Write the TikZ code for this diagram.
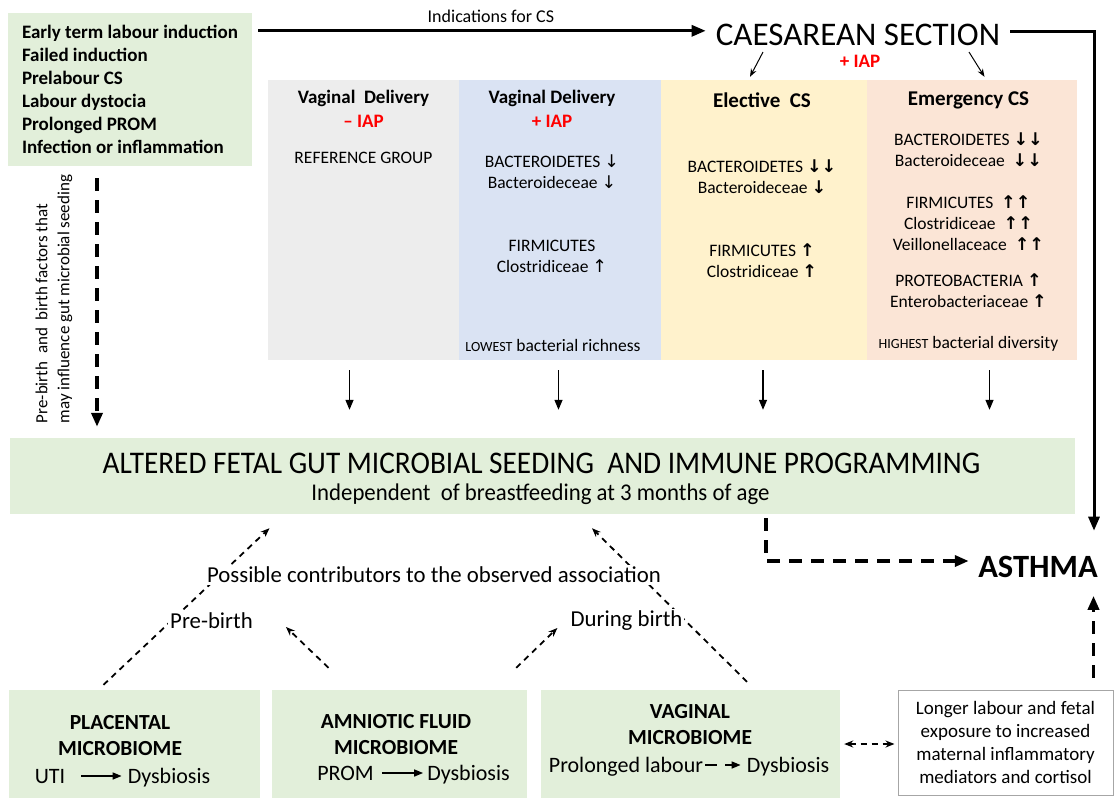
\documentclass[tikz,border=0pt]{standalone}
\usepackage{fontspec}
\usepackage{graphicx}
\setmainfont{Carlito}
\newfontfamily\arrfont{DejaVu Sans}
\usetikzlibrary{arrows.meta,positioning}

\definecolor{boxgreen}{HTML}{E2EFDA}
\definecolor{colgray}{HTML}{EDEDED}
\definecolor{colblue}{HTML}{DAE3F3}
\definecolor{colyellow}{HTML}{FFF2CC}
\definecolor{colpeach}{HTML}{FBE5D6}
\definecolor{iapred}{HTML}{FF0000}

\newcommand{\setfs}[2]{\fontsize{#1}{#2}\selectfont}
\newcommand{\dnA}{{\arrfont ↓}}
\newcommand{\upA}{{\arrfont ↑}}
\newcommand{\dnB}{{\arrfont\bfseries ↓}}
\newcommand{\upB}{{\arrfont\bfseries ↑}}

\begin{document}
\begin{tikzpicture}[x=1pt, y=-1pt,
    >={Stealth[length=9pt,width=7pt]},
    greenbox/.style={fill=boxgreen, inner sep=0pt},
    colbox/.style={inner sep=0pt, minimum width=#1, minimum height=280},
    head/.style={font=\bfseries\setfs{19}{23}, align=center, inner sep=1pt},
    bighead/.style={font=\bfseries\setfs{21}{25}, align=center, inner sep=1pt},
    body/.style={font=\setfs{17.5}{21}, align=center, inner sep=1pt},
    microhead/.style={font=\bfseries\setfs{21.5}{26}, align=center, inner sep=1pt},
    microline/.style={font=\setfs{22}{26}, inner sep=2pt, anchor=base},
    note/.style={font=\setfs{22.8}{26}, inner sep=2pt, fill=white},
    thickarr/.style={line width=3pt, -{Triangle[length=14pt,width=11pt]}},
    thinarr/.style={line width=1.3pt, -{Triangle[length=10pt,width=8pt]}},
    csarr/.style={line width=1pt, -{Stealth[length=8pt,width=6pt]}},
    dasharr/.style={line width=3.5pt, dash pattern=on 13pt off 9pt, -{Triangle[length=14pt,width=11pt]}},
    dotline/.style={line width=1.8pt, dash pattern=on 6pt off 5pt},
    smallarr/.style={line width=1.5pt, -{Triangle[length=9pt,width=7pt]}}]
    \def\colY{220} % milieu des colonnes
    \useasboundingbox (0,0) rectangle (1117,798);
    \fill[white] (0,0) rectangle (1117,798);

    % indications
    \node[greenbox, minimum width=244, minimum height=153, align=left, font=\bfseries\setfs{19}{23}] (ind) at (130,89.5)
        {Early term labour induction\\Failed induction\\Prelabour CS\\Labour dystocia\\Prolonged PROM\\Infection or inflammation};
    \node[font=\setfs{33}{38}, inner xsep=10pt, inner ysep=2pt] (cs) at (858,35) {CAESAREAN SECTION};
    \node[head, text=iapred] (csIap) at (860,61) {+ IAP};

    % groupes
    \node[colbox=191, fill=colgray] (vdn) at (363.5,\colY) {};
    \node[colbox=202, fill=colblue] (vdp) at (560,\colY) {};
    \node[colbox=206, fill=colyellow] (ecs) at (764,\colY) {};
    \node[colbox=210, fill=colpeach] (emcs) at (972,\colY) {};

    \node[head] (vdnH) at (363.5,98) {Vaginal\ \ Delivery};
    \node[head, text=iapred] (vdnI) at (363.5,121) {– IAP};
    \node[body] (vdnRef) at (363.5,158) {REFERENCE GROUP};

    \node[head] (vdpH) at (552,98) {Vaginal Delivery};
    \node[head, text=iapred] (vdpI) at (552,121) {+ IAP};
    \node[body] (vdpB) at (552,172) {BACTEROIDETES \dnA\\Bacteroideceae \dnA};
    \node[body] (vdpF) at (552,256.5) {FIRMICUTES\\Clostridiceae \upA};
    \node[body] (vdpL) at (553,345.5) {{\setfs{14}{17}LOWEST} bacterial richness};

    \node[bighead] (ecsH) at (762,100) {Elective\ \ CS};
    \node[body] (ecsB) at (762,176.5) {BACTEROIDETES \dnB\dnB\\Bacteroideceae \dnB};
    \node[body] (ecsF) at (762,260.5) {FIRMICUTES \upB\\Clostridiceae \upB};

    \node[bighead] (emcsH) at (968.5,100) {Emergency CS};
    \node[body] (emcsB) at (968.5,150) {BACTEROIDETES \dnB\dnB\\Bacteroideceae\ \ \dnB\dnB};
    \node[body] (emcsF) at (968.5,223) {FIRMICUTES\ \ \upB\upB\\Clostridiceae\ \ \upB\upB\\Veillonellaceace\ \ \upB\upB};
    \node[body] (emcsP) at (968.5,291) {PROTEOBACTERIA \upB\\Enterobacteriaceae \upB};
    \node[body] (emcsL) at (968.5,344) {{\setfs{14}{17}HIGHEST} bacterial diversity};

    % seeding
    \node[greenbox, minimum width=1065, minimum height=76] (seed) at (542.5,476) {};
    \node[font=\setfs{31.5}{36}, inner sep=0pt] (seedT) at (541.5,463)
        {\scalebox{0.93}[1]{ALTERED FETAL GUT MICROBIAL SEEDING\ \ AND IMMUNE PROGRAMMING}};
    \node[font=\setfs{24}{28}, inner sep=0pt] (seedS) at (540.5,494)
        {\scalebox{0.95}[1]{Independent\ \ of breastfeeding at 3 months of age}};
    \node[rotate=90, align=left, font=\setfs{17}{22}, inner sep=0pt] (seedNote) at (54,299)
        {Pre-birth\ \ and\ \ birth factors that\\may influence gut microbial seeding};

    \node[font=\bfseries\setfs{32.5}{38}] (asthma) at (1038,567) {ASTHMA};

    % microbiomes
    \node[greenbox, minimum width=251, minimum height=108] (plac) at (134.5,744) {};
    \node[greenbox, minimum width=255, minimum height=108] (amn) at (399.5,744) {};
    \node[greenbox, minimum width=299, minimum height=108] (vag) at (690.5,744) {};
    \node[draw=black!35, line width=1pt, fill=white, minimum width=215, minimum height=105, align=center,
        font=\setfs{19}{23}] (longer) at (1005.5,742.5)
        {Longer labour and fetal\\exposure to increased\\maternal inflammatory\\mediators and cortisol};

    \node[microhead] (placH) at (120,736) {PLACENTAL\\MICROBIOME};
    \node[microhead] (amnH) at (396,734.5) {AMNIOTIC FLUID\\MICROBIOME};
    \node[microhead] (vagH) at (690,724.5) {VAGINAL\\MICROBIOME};
    \node[microline] (uti) at (50,783) {UTI};
    \node[microline] (dysP) at (169,783) {Dysbiosis};
    \node[microline] (prom) at (345.5,780) {PROM};
    \node[microline] (dysA) at (468.5,780) {Dysbiosis};
    \node[microline] (prol) at (626,772) {Prolonged labour};
    \node[microline] (dysV) at (788,772) {Dysbiosis};

    % contributeurs (lignes sous les textes)
    \draw[dotline, ->] ([xshift=-31pt,yshift=5pt]plac.north) -- ([xshift=-273pt,yshift=-14pt]seed.south);
    \draw[dotline, ->] ([xshift=56.5pt,yshift=8pt]vag.north) -- ([xshift=49.5pt,yshift=-14pt]seed.south);
    \node[note] (contrib) at (434,575) {Possible contributors to the observed association};
    \node[note] (pre) at (211.5,621) {Pre-birth};
    \node[note] (during) at (626.5,621) {During birth};
    \draw[dotline, ->] ([xshift=-71pt,yshift=22pt]amn.north) -- ([xshift=31pt,yshift=-6pt]pre.east);
    \draw[dotline, ->] ([xshift=-11pt,yshift=22pt]amn.north east) -- ([xshift=-11pt,yshift=-7pt]during.west);

    % fleches
    \coordinate (indOut) at ([xshift=6pt,yshift=-18pt]ind.north east);
    \draw[thickarr] (indOut) -- (indOut -| cs.west) node[pos=0.52, above=3pt, font=\setfs{18}{21}] (indic) {Indications for CS};
    \draw[thickarr] ([yshift=4pt]cs.east) -| ([xshift=56pt,yshift=22pt]asthma.north);
    \draw[csarr] ([xshift=-95pt,yshift=-4pt]cs.south) -- ([xshift=-14pt,yshift=3pt]ecs.north);
    \draw[csarr] ([xshift=111pt,yshift=-4pt]cs.south) -- ([xshift=12.5pt,yshift=3pt]emcs.north);
    \foreach \c/\dx in {vdn/-14, vdp/-1.5, ecs/-1, emcs/17.5} {
        \coordinate (colOut) at ([xshift=\dx pt, yshift=-10pt]\c.south);
        \draw[thinarr] (colOut) -- ([yshift=28pt]seed.north -| colOut);
    }
    \coordinate (indDown) at ([xshift=-33pt,yshift=-12pt]ind.south);
    \draw[dasharr] (indDown) -- ([yshift=11pt]seed.north -| indDown);
    \coordinate (seedOut) at ([xshift=223.5pt,yshift=-4pt]seed.south);
    \draw[dasharr] (seedOut) |- ([xshift=-6pt,yshift=6pt]asthma.west);
    \coordinate (longerOut) at ([xshift=88pt,yshift=12pt]longer.north);
    \draw[dasharr] (longerOut) -- ([yshift=-14.5pt]asthma.south -| longerOut);
    \draw[dotline, <->, shorten <=4pt, shorten >=3pt] (vag.east) -- (vag.east -| longer.west);

    \draw[smallarr, shorten <=14pt, shorten >=4pt] ([yshift=7pt]uti.base east) -- ([yshift=7pt]dysP.base west);
    \draw[smallarr, shorten <=6pt, shorten >=2pt] ([yshift=7pt]prom.base east) -- ([yshift=7pt]dysA.base west);
    \draw[smallarr, dash pattern=on 12pt off 8pt, shorten >=4pt] ([yshift=7pt]prol.base east) -- ([yshift=7pt]dysV.base west);
\end{tikzpicture}
\end{document}
